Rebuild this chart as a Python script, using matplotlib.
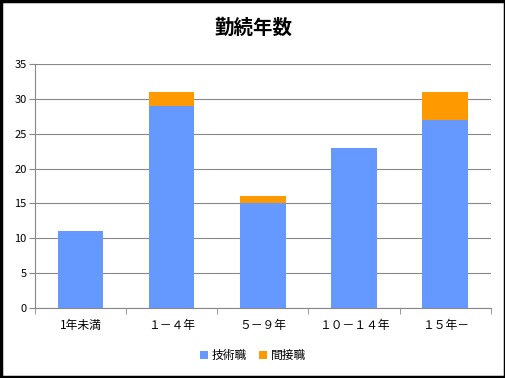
import matplotlib.pyplot as plt
import numpy as np

plt.rcParams['font.family'] = ['Noto Sans CJK JP', 'DejaVu Sans']

categories = ['1年未満', '１－４年', '５－９年', '１０－１４年', '１５年－']
gijutsu = [11, 29, 15, 23, 27]
kansetsu = [0, 2, 1, 0, 4]
series_names = ['技術職', '間接職']

fig = plt.figure(figsize=(5.06, 3.78), dpi=100)
ax = fig.add_axes([0.069, 0.185, 0.901, 0.646])

x = np.arange(len(categories))
ax.bar(x, gijutsu, width=0.5, color='#6699FF', label=series_names[0], zorder=3)
ax.bar(x, kansetsu, width=0.5, bottom=gijutsu, color='#FF9900', label=series_names[1], zorder=3)

ax.set_ylim(0, 35)
ax.set_yticks(range(0, 36, 5))
ax.set_xlim(-0.5, len(categories) - 0.5)
ax.set_xticks(x)
ax.set_xticklabels(categories, fontsize=8.5)
ax.set_xticks(np.arange(-0.5, len(categories), 1), minor=True)
ax.tick_params(axis='x', which='major', length=0, pad=8)
ax.tick_params(axis='x', which='minor', length=4, color='#888888')
ax.tick_params(axis='y', length=4, color='#888888', labelsize=8, pad=2)
ax.grid(axis='y', color='#888888', linewidth=0.8, zorder=0)

for s in ['top', 'right']:
    ax.spines[s].set_visible(False)
for s in ['left', 'bottom']:
    ax.spines[s].set_color('#888888')

fig.text(0.5, 0.926, '勤続年数', ha='center', va='center', fontsize=14, fontweight='bold')
fig.legend(loc='center', bbox_to_anchor=(0.5, 0.06), ncol=2, frameon=False,
           fontsize=8.5, handlelength=0.7, handleheight=0.7, handletextpad=0.3, columnspacing=1.0)

fig.patches.append(plt.Rectangle((0.002, 0.003), 0.996, 0.994, transform=fig.transFigure,
                                 fill=False, edgecolor='black', linewidth=2.5))

fig.savefig('out.png', dpi=100)
